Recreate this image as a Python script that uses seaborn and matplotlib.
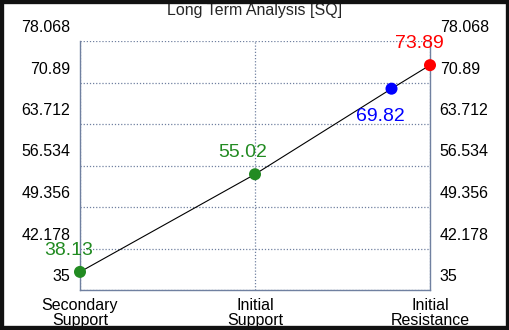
import matplotlib
matplotlib.use("Agg")
import matplotlib.pyplot as plt
import matplotlib.transforms as mtrans
from matplotlib.patches import Rectangle
import seaborn as sns
import pandas as pd

categories = ["Secondary\nSupport", "Initial\nSupport", "Initial\nResistance"]
point_x = [0, 1, 1.78, 2]
point_values = [38.13, 55.02, 69.82, 73.89]
point_colors = ["#228B22", "#228B22", "#0000FF", "#FF0000"]
y_ticks = [35, 42.178, 49.356, 56.534, 63.712, 70.89, 78.068]
y_tick_labels = ["35", "42.178", "49.356", "56.534", "63.712", "70.89", "78.068"]
title = "Long Term Analysis [SQ]"

sns.set_theme(style="white")
plt.rcParams["font.family"] = ["Liberation Sans", "DejaVu Sans"]

df = pd.DataFrame({"x": point_x, "y": point_values, "c": point_colors})

fig = plt.figure(figsize=(5.1, 3.3), dpi=100)
fig.patch.set_facecolor("white")
ax = fig.add_axes([80 / 510, 40 / 330, 350 / 510, 249 / 330])

sns.lineplot(data=df, x="x", y="y", ax=ax, color="black", linewidth=0.8, zorder=3)
sns.scatterplot(data=df, x="x", y="y", hue="c", palette={c: c for c in point_colors},
                s=75, edgecolor="none", legend=False, ax=ax, zorder=4, clip_on=False)

ax.set_xlim(0, 2)
ax.set_ylim(y_ticks[0], y_ticks[-1])
ax.set_xticks([0, 1, 2])
ax.set_xticklabels(categories, fontsize=11.5, linespacing=0.95)
ax.set_yticks(y_ticks)
ax.set_yticklabels(y_tick_labels, fontsize=11.5)
ax.set_xlabel("")
ax.set_ylabel("")

grid_color = "#7080a0"
ax.grid(True, color=grid_color, linestyle=(0, (1, 1.5)), linewidth=0.9)
for side in ["left", "right", "bottom"]:
    ax.spines[side].set_visible(True)
    ax.spines[side].set_color(grid_color)
    ax.spines[side].set_linewidth(1.0)
ax.spines["top"].set_visible(False)

ax.tick_params(axis="y", length=0, pad=7, labelright=True, labelleft=True, colors="black",
               labelsize=11.5)
ax.tick_params(axis="x", length=0, pad=6, colors="black")

offset = mtrans.ScaledTranslation(0, 0.15, fig.dpi_scale_trans)
for t in ax.yaxis.get_major_ticks():
    t.label1.set_transform(t.label1.get_transform() + offset)
    t.label2.set_transform(t.label2.get_transform() + offset)

# value labels (offsets in pixels)
label_offsets = [(-11, 21), (-12, 22), (-11, -28), (-11, 22)]
for xv, yv, c, (dx, dy) in zip(point_x, point_values, point_colors, label_offsets):
    ax.annotate(f"{yv:.2f}", xy=(xv, yv), xytext=(dx, dy), textcoords="offset pixels",
                color=c, fontsize=14, ha="center", va="center", annotation_clip=False)

fig.text(0.5, 1 - 10 / 330, title, ha="center", va="center", fontsize=11.5)

fig.patches.append(Rectangle((0, 0), 1, 1, transform=fig.transFigure, fill=False,
                             edgecolor="#111111", linewidth=6, zorder=10))

fig.savefig("out.png", dpi=100)
